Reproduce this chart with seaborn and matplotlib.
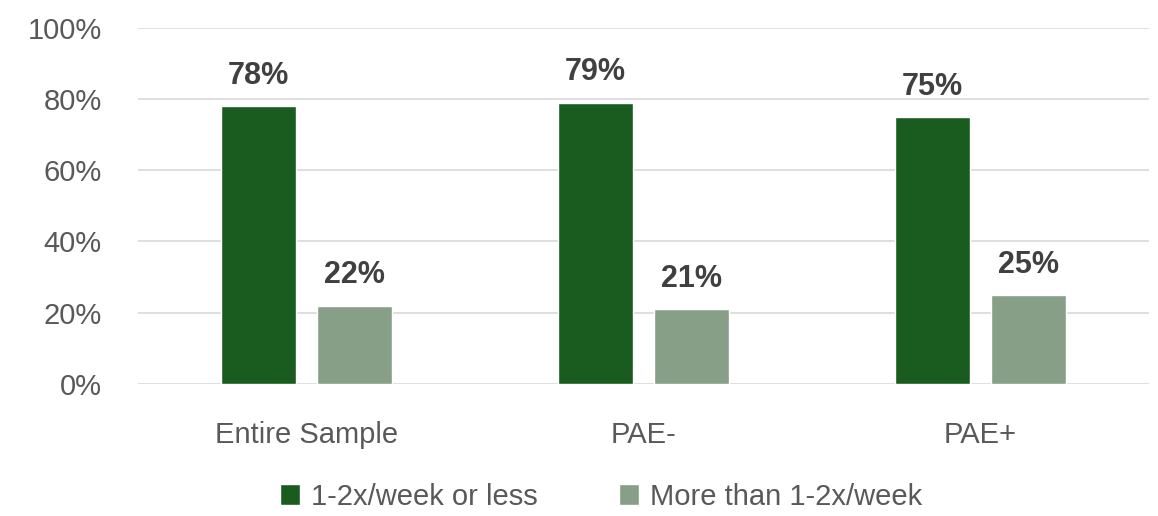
import seaborn as sns
import matplotlib.pyplot as plt
import pandas as pd

categories = ["Entire Sample", "PAE-", "PAE+"]
series = ["1-2x/week or less", "More than 1-2x/week"]
low_freq = [0.78, 0.79, 0.75]
high_freq = [0.22, 0.21, 0.25]
y_ticks = [0, 0.2, 0.4, 0.6, 0.8, 1.0]
y_tick_labels = ["0%", "20%", "40%", "60%", "80%", "100%"]

df = pd.DataFrame({
    "group": categories * 2,
    "freq": [series[0]] * 3 + [series[1]] * 3,
    "value": low_freq + high_freq,
})

sns.set_style("white")
plt.rcParams["font.family"] = ["Liberation Sans", "DejaVu Sans"]

fig = plt.figure(figsize=(11.58, 5.16), dpi=100)
ax = fig.add_axes([0.119, 0.256, 0.873, 0.69])

sns.barplot(
    data=df, x="group", y="value", hue="freq",
    palette=["#1a5c20", "#879e87"], saturation=1,
    width=0.57, gap=0.22, ax=ax, legend=True,
)

for cont in ax.containers:
    ax.bar_label(cont, labels=[f"{v*100:.0f}%" for v in cont.datavalues],
                 padding=11, fontsize=22, fontweight="bold", color="#404040")

ax.set_ylim(0, 1.0)
ax.set_xlim(-0.5, 2.5)
ax.set_yticks(y_ticks)
ax.set_yticklabels(y_tick_labels)
ax.yaxis.grid(True, color="#d9d9d9", linewidth=1.2)
ax.set_axisbelow(True)
sns.despine(ax=ax, left=True, bottom=True, top=True, right=True)
ax.tick_params(axis="y", labelsize=21, labelcolor="#595959", length=0, pad=26)
ax.tick_params(axis="x", labelsize=21, labelcolor="#595959", length=0, pad=27)
ax.set_xlabel("")
ax.set_ylabel("")

ax.legend(loc="center", bbox_to_anchor=(0.458, -0.317), ncol=2, frameon=False,
          fontsize=21, handlelength=0.7, handleheight=0.7, handletextpad=0.35,
          columnspacing=2.8, labelcolor="#595959")

fig.savefig("out.png", dpi=100)
